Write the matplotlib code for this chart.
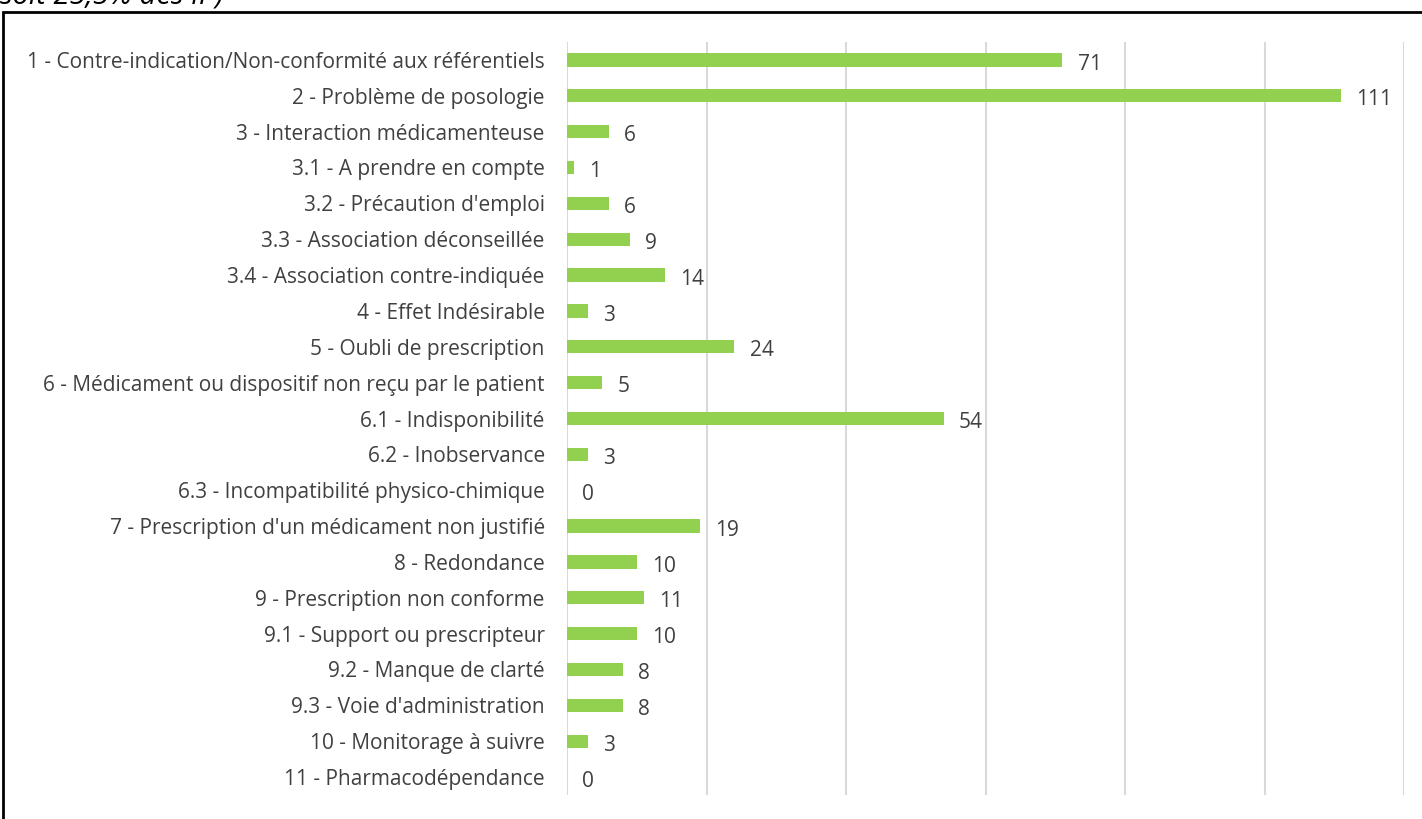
import matplotlib
matplotlib.use("Agg")
import matplotlib.pyplot as plt
from matplotlib.patches import Rectangle

categories = [
    "1 - Contre-indication/Non-conformité aux référentiels",
    "2 - Problème de posologie",
    "3 - Interaction médicamenteuse",
    "3.1 - A prendre en compte",
    "3.2 - Précaution d'emploi",
    "3.3 - Association déconseillée",
    "3.4 - Association contre-indiquée",
    "4 - Effet Indésirable",
    "5 - Oubli de prescription",
    "6 - Médicament ou dispositif non reçu par le patient",
    "6.1 - Indisponibilité",
    "6.2 - Inobservance",
    "6.3 - Incompatibilité physico-chimique",
    "7 - Prescription d'un médicament non justifié",
    "8 - Redondance",
    "9 - Prescription non conforme",
    "9.1 - Support ou prescripteur",
    "9.2 - Manque de clarté",
    "9.3 - Voie d'administration",
    "10 - Monitorage à suivre",
    "11 - Pharmacodépendance",
]
values = [71, 111, 6, 1, 6, 9, 14, 3, 24, 5, 54, 3, 0, 19, 10, 11, 10, 8, 8, 3, 0]
title_text = "soit 25,5% des IP)"

W, H = 1422, 819
fig = plt.figure(figsize=(W / 100, H / 100), dpi=100)
fig.patch.set_facecolor("white")

ax = fig.add_axes([567 / W, 1 - 795 / H, (1404 - 567) / W, (795 - 42) / H])
ypos = list(range(len(categories)))
ax.barh(ypos, values, height=0.37, color="#92D050", zorder=3)
ax.set_xlim(0, 120)
ax.set_ylim(len(categories) - 0.5, -0.5)
ax.set_xticks(range(0, 121, 20))
ax.set_xticklabels([])
ax.tick_params(axis="x", length=0)
ax.tick_params(axis="y", length=0, pad=16)
ax.set_yticks(ypos)
ax.set_yticklabels(categories, fontsize=15, color="#404040", family="Open Sans")
ax.grid(axis="x", color="#D9D9D9", linewidth=1.5, zorder=0)
for s in ax.spines.values():
    s.set_visible(False)

for y, v in zip(ypos, values):
    ax.annotate(str(v), xy=(v, y), xytext=(11, -3), textcoords="offset points",
                va="center", ha="left", fontsize=15, color="#404040", family="Open Sans")

# outer frame (partially cropped)
fig.patches.append(Rectangle((3 / W, -0.1), 1.2, 1 - 12 / H + 0.1, transform=fig.transFigure,
                             fill=False, edgecolor="black", linewidth=2, clip_on=False))
fig.text(0, 1 - 3 / H, title_text, fontsize=21, family="Open Sans", style="italic",
         va="baseline", ha="left", color="black")

fig.savefig("out.png", dpi=100)
